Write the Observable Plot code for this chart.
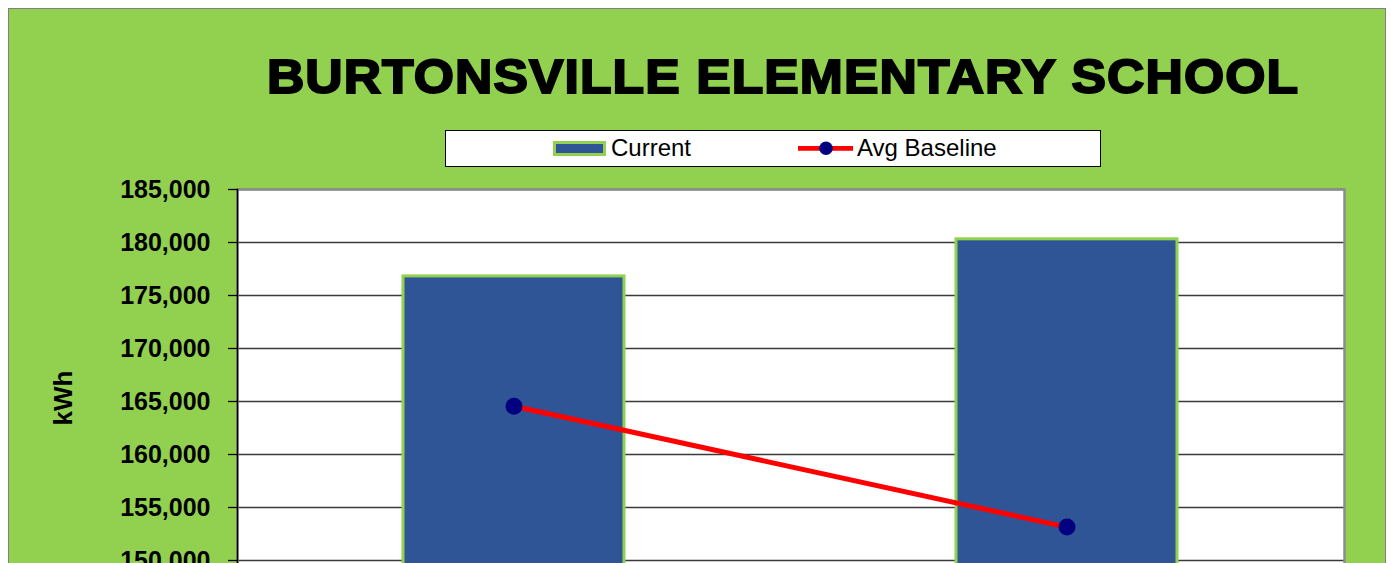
<!DOCTYPE html>
<html><head><meta charset="utf-8">
<script src="https://cdn.jsdelivr.net/npm/d3@7"></script>
<script src="https://cdn.jsdelivr.net/npm/@observablehq/plot@0.6"></script>
<style>
html,body{margin:0;padding:0;width:1391px;height:563px;overflow:hidden;background:#fff;font-family:"Liberation Sans",Arial,sans-serif;}
#box{position:absolute;left:8px;top:8px;width:1378px;height:700px;background:#92D050;border:1.5px solid #7f7f7f;box-sizing:border-box;}
#title{position:absolute;left:183px;width:1200px;top:52px;text-align:center;white-space:nowrap;font-size:49px;line-height:1;font-weight:bold;letter-spacing:1px;color:#000;-webkit-text-stroke:2px #000;transform:scaleX(1.055);transform-origin:600px 0;}
#legend{position:absolute;left:445px;top:130px;width:656px;height:37px;background:#fff;border:1.5px solid #000;box-sizing:border-box;}
.lt{position:absolute;top:135.5px;font-size:24px;line-height:1;color:#000;white-space:nowrap;}
#ylabel{position:absolute;left:63px;top:398px;transform:translate(-50%,-50%) rotate(-90deg);font-size:26px;font-weight:bold;line-height:1;white-space:nowrap;}
#chart{position:absolute;left:0;top:0;}
</style>
</head><body>
<div id="box"></div>
<div id="title"></div>
<div id="legend"></div>
<svg id="sw" style="position:absolute;left:0;top:0;overflow:visible" width="1391" height="200"></svg>
<div id="l1" class="lt" style="left:611px"></div>
<div id="l2" class="lt" style="left:857px"></div>
<div id="ylabel"></div>
<div id="chart"></div>
<script>
const titleText = "BURTONSVILLE ELEMENTARY SCHOOL";
const yLabel = "kWh";
const seriesNames = ["Current", "Avg Baseline"];
const categories = ["Period 1", "Period 2"];
const currentValues = [176800, 180300];
const baselineValues = [164550, 153150];
const yTicks = [145000, 150000, 155000, 160000, 165000, 170000, 175000, 180000, 185000];

const BLUE = "#2F5597", GREEN = "#92D050", RED = "#FF0000", NAVY = "#000080";

document.getElementById("title").textContent = titleText;
document.getElementById("ylabel").textContent = yLabel;
document.getElementById("l1").textContent = seriesNames[0];
document.getElementById("l2").textContent = seriesNames[1];

// legend swatches
const sw = d3.select("#sw");
sw.append("rect").attr("x", 554.5).attr("y", 142.5).attr("width", 50).attr("height", 12)
  .attr("fill", BLUE).attr("stroke", GREEN).attr("stroke-width", 3);
sw.append("line").attr("x1", 798).attr("x2", 853).attr("y1", 148.3).attr("y2", 148.3)
  .attr("stroke", RED).attr("stroke-width", 4.7);
sw.append("circle").attr("cx", 826).attr("cy", 148.3).attr("r", 6.8).attr("fill", NAVY);

const current = categories.map((c, i) => ({cat: c, value: currentValues[i]}));
const baseline = categories.map((c, i) => ({cat: c, value: baselineValues[i]}));

const chart = Plot.plot({
  width: 1391,
  height: 620,
  marginLeft: 237,
  marginRight: 47,
  marginTop: 189,
  marginBottom: 7,
  style: {fontFamily: "'Liberation Sans', Arial, sans-serif", fontSize: "25px", fontWeight: "bold", color: "#000", background: "transparent", overflow: "visible"},
  x: {domain: categories, paddingInner: 0.6, paddingOuter: 0.3, axis: null},
  y: {domain: [145000, 185000], axis: null},
  marks: [
    Plot.frame({fill: "#fff", stroke: null}),
    Plot.ruleY(yTicks, {stroke: "#3a3a3a", strokeWidth: 1.3}),
    Plot.barY(current, {x: "cat", y1: 145000, y2: "value", fill: BLUE, stroke: GREEN, strokeWidth: 3}),
    Plot.frame({stroke: "#8c8c8c", strokeWidth: 2.5}),
    Plot.line(baseline, {x: "cat", y: "value", stroke: RED, strokeWidth: 5}),
    Plot.dot(baseline, {x: "cat", y: "value", r: 8.5, fill: NAVY, stroke: null}),
    Plot.frame({anchor: "left", stroke: "#000", strokeWidth: 1.5}),
    Plot.axisY(yTicks, {tickSize: 9, tickPadding: 18, tickFormat: d => d3.format(",")(d), label: null, stroke: "#000", strokeWidth: 1.3, fontSize: 25, fontWeight: "bold"})
  ]
});
document.getElementById("chart").appendChild(chart);
</script>
</body></html>
